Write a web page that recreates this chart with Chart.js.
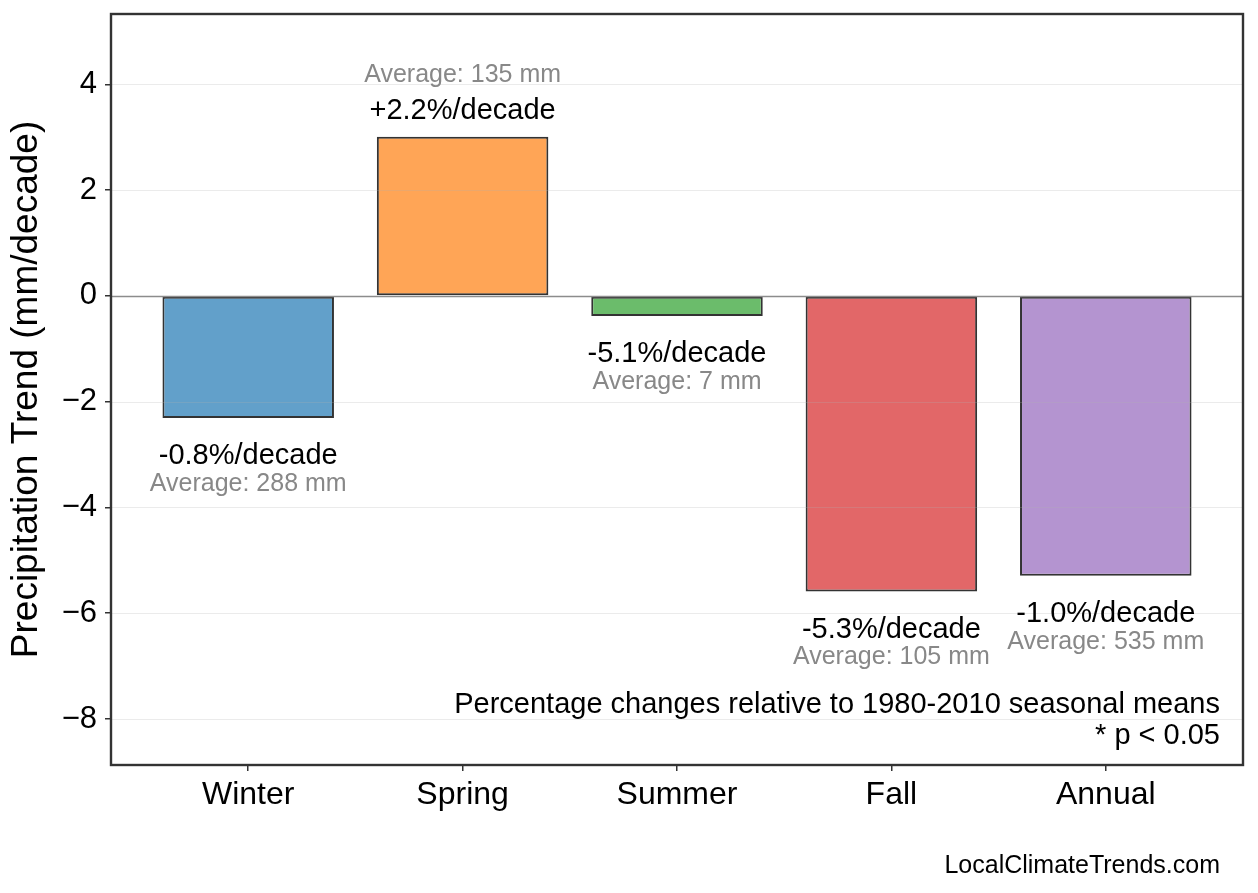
<!DOCTYPE html>
<html>
<head>
<meta charset="utf-8">
<script src="https://cdn.jsdelivr.net/npm/chart.js@4.4.1/dist/chart.umd.min.js"></script>
<style>
  html, body { margin: 0; padding: 0; background: #fff; }
  #wrap { width: 1258px; height: 893px; }
</style>
</head>
<body>
<div id="wrap"><canvas id="trend-chart" width="1258" height="893"></canvas></div>
<script>
// Seasonal precipitation trends
const seasons = ['Winter', 'Spring', 'Summer', 'Fall', 'Annual'];
const trendMm = [-2.31, 3.01, -0.38, -5.59, -5.29];
const pctChange = [-0.8, 2.2, -5.1, -5.3, -1.0];
const avgMm = [288, 135, 7, 105, 535];
const yTicks = [-8, -6, -4, -2, 0, 2, 4];
const barColors = ['#62a0ca', '#ffa556', '#6bbc6b', '#e26768', '#b494d0'];

const FONT = "'Liberation Sans', Arial, Helvetica, sans-serif";

// grid lines sit on top of the bars, like the original
const overlayPlugin = {
    id: 'overlay',
    afterDatasetsDraw(chart) {
        const { ctx, chartArea: area, scales } = chart;
        ctx.save();
        yTicks.forEach(v => {
            const y = Math.round(scales.y.getPixelForValue(v)) + 0.5;
            ctx.beginPath();
            ctx.moveTo(area.left, y);
            ctx.lineTo(area.right, y);
            if (v === 0) {
                ctx.strokeStyle = '#8c8c8c';
                ctx.lineWidth = 1.3;
            } else {
                ctx.strokeStyle = 'rgba(176,176,176,0.25)';
                ctx.lineWidth = 1;
            }
            ctx.stroke();
        });

        // value labels
        const meta = chart.getDatasetMeta(0);
        ctx.textAlign = 'center';
        ctx.textBaseline = 'middle';
        meta.data.forEach((bar, i) => {
            const pct = (pctChange[i] > 0 ? '+' : '') + pctChange[i].toFixed(1) + '%/decade';
            const avg = 'Average: ' + avgMm[i] + ' mm';
            let pctY, avgY;
            if (trendMm[i] >= 0) {
                pctY = bar.y - 26;
                avgY = bar.y - 62;
            } else {
                pctY = bar.y + 38;
                avgY = bar.y + 66;
            }
            ctx.font = '29px ' + FONT;
            ctx.fillStyle = '#000';
            ctx.fillText(pct, bar.x, pctY);
            ctx.font = '25px ' + FONT;
            ctx.fillStyle = '#888888';
            ctx.fillText(avg, bar.x, avgY);
        });
        ctx.restore();
    },
    afterDraw(chart) {
        const { ctx, chartArea: area } = chart;
        ctx.save();
        ctx.strokeStyle = '#333';
        ctx.lineWidth = 2.4;
        ctx.strokeRect(area.left, area.top, area.right - area.left, area.bottom - area.top);

        ctx.fillStyle = '#000';
        ctx.textAlign = 'right';
        ctx.textBaseline = 'middle';
        ctx.font = '29px ' + FONT;
        ctx.fillText('Percentage changes relative to 1980-2010 seasonal means', 1220, 705);
        ctx.fillText('* p < 0.05', 1220, 736);
        ctx.font = '25px ' + FONT;
        ctx.fillText('LocalClimateTrends.com', 1220, 866);
        ctx.restore();
    }
};

const ctx = document.getElementById('trend-chart');
const chart = new Chart(ctx.getContext('2d'), {
    type: 'bar',
    data: {
        datasets: [{
            data: trendMm.map((v, i) => ({ x: i, y: v })),
            backgroundColor: barColors,
            borderColor: '#333',
            borderWidth: 2,
            borderSkipped: false,
            barPercentage: 0.8,
            categoryPercentage: 1.0
        }]
    },
    options: {
        responsive: false,
        devicePixelRatio: 1,
        animation: false,
        layout: { padding: { left: 0, top: 14, right: 15, bottom: 0 } },
        plugins: {
            legend: { display: false },
            tooltip: { enabled: false }
        },
        scales: {
            x: {
                type: 'linear',
                offset: false,
                min: -0.64,
                max: 4.64,
                afterBuildTicks: axis => { axis.ticks = seasons.map((s, i) => ({ value: i })); },
                afterFit: axis => {
                    axis.height = 128;
                    axis.paddingLeft = 0;
                    axis.paddingRight = 0;
                },
                border: { display: false },
                grid: { offset: false, drawOnChartArea: false, tickColor: '#333', tickLength: 6, lineWidth: 1.5 },
                ticks: {
                    callback: v => seasons[v],
                    color: '#000',
                    padding: 5,
                    maxRotation: 0,
                    autoSkip: false,
                    font: { family: FONT, size: 32 }
                }
            },
            y: {
                min: -8.87,
                max: 5.33,
                afterBuildTicks: axis => { axis.ticks = yTicks.map(v => ({ value: v })); },
                afterFit: axis => {
                    axis.width = 111;
                    axis.paddingTop = 0;
                    axis.paddingBottom = 0;
                },
                border: { display: false },
                grid: { drawOnChartArea: false, tickColor: '#333', tickLength: 6, lineWidth: 1.5 },
                ticks: {
                    callback: v => (v < 0 ? '\u2212' + Math.abs(v) : String(v)),
                    color: '#000',
                    padding: 8,
                    font: { family: FONT, size: 31 }
                },
                title: {
                    display: true,
                    text: 'Precipitation Trend (mm/decade)',
                    color: '#000',
                    padding: { top: 5, bottom: 0 },
                    font: { family: FONT, size: 37 }
                }
            }
        }
    },
    plugins: [overlayPlugin]
});
</script>
</body>
</html>
